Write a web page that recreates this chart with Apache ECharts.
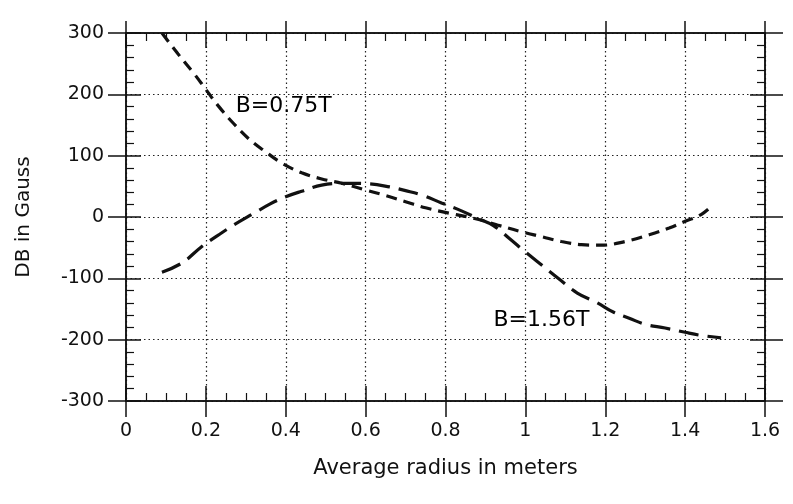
<!DOCTYPE html>
<html>
<head>
<meta charset="utf-8">
<script src="https://cdn.jsdelivr.net/npm/echarts@6/dist/echarts.min.js"></script>
<style>
  html, body { margin: 0; padding: 0; background: #fff; }
  #chart { width: 793px; height: 504px; }
</style>
</head>
<body>
<div id="chart"></div>
<script>
// B=0.75T curve (short dashes)
var xLow = [0.09, 0.13, 0.17, 0.2, 0.23, 0.27, 0.31, 0.35, 0.39, 0.44, 0.49, 0.54, 0.6, 0.65, 0.7, 0.75, 0.81, 0.87, 0.93, 0.99, 1.04, 1.09, 1.14, 1.19, 1.25, 1.31, 1.36, 1.4, 1.44, 1.47];
var yLow = [300, 266, 234, 208, 182, 152, 126, 106, 88, 72, 62, 55, 44, 35, 25, 15, 6, -2, -13, -24, -32, -40, -45, -46, -40, -29, -18, -7, 4, 20];
// B=1.56T curve (long dashes)
var xHigh = [0.09, 0.14, 0.19, 0.23, 0.27, 0.32, 0.36, 0.4, 0.44, 0.49, 0.55, 0.61, 0.66, 0.7, 0.74, 0.79, 0.84, 0.88, 0.92, 0.96, 1.0, 1.04, 1.09, 1.13, 1.18, 1.22, 1.26, 1.3, 1.35, 1.4, 1.44, 1.49];
var yHigh = [-90, -75, -48, -30, -13, 6, 21, 33, 42, 52, 55, 54, 49, 43, 36, 23, 10, -2, -14, -35, -57, -78, -104, -124, -140, -155, -165, -175, -181, -188, -193, -197];
// curve labels
var labelText = ['B=0.75T', 'B=1.56T'];
var labelX = [0.395, 1.04];
var labelY = [181, -168];

var FONT = 'DejaVu Sans';
var INK = '#111';

function pairs(xs, ys) {
    var out = [];
    for (var i = 0; i < xs.length; i++) out.push([xs[i], ys[i]]);
    return out;
}

// one axis carrying labels + outward ticks, one carrying inward ticks + minor ticks
function xAx(pos, inside, labels) {
    return {
        type: 'value', position: pos, min: 0, max: 1.6, interval: 0.2,
        axisLine: { show: true, onZero: false, lineStyle: { color: INK, width: 1.5 } },
        axisTick: { show: true, inside: inside, length: inside ? 15 : (pos == 'bottom' ? 16 : 12), lineStyle: { color: INK, width: 1.5 } },
        minorTick: { show: inside, splitNumber: 4, length: 8, lineStyle: { color: INK, width: 1.2 } },
        axisLabel: { show: labels, color: INK, fontFamily: FONT, fontSize: 19, margin: 21 },
        splitLine: { show: labels, lineStyle: { color: '#222', width: 1.2, type: [1.5, 3] } },
        minorSplitLine: { show: false }
    };
}
function yAx(pos, inside, labels) {
    return {
        type: 'value', position: pos, min: -300, max: 300, interval: 100,
        axisLine: { show: true, onZero: false, lineStyle: { color: INK, width: 1.5 } },
        axisTick: { show: true, inside: inside, length: inside ? 15 : 18, lineStyle: { color: INK, width: 1.5 } },
        minorTick: { show: inside, splitNumber: 5, length: 8, lineStyle: { color: INK, width: 1.2 } },
        axisLabel: { show: labels, color: INK, fontFamily: FONT, fontSize: 19, margin: 22 },
        splitLine: { show: labels, lineStyle: { color: '#222', width: 1.2, type: [1.5, 3] } },
        minorSplitLine: { show: false }
    };
}

var xAxes = [xAx('bottom', false, true), xAx('bottom', true, false), xAx('top', false, false), xAx('top', true, false)];
xAxes[0].name = 'Average radius in meters';
xAxes[0].nameLocation = 'middle';
xAxes[0].nameGap = 57;
xAxes[0].nameTextStyle = { color: INK, fontFamily: FONT, fontSize: 21 };

var yAxes = [yAx('left', false, true), yAx('left', true, false), yAx('right', false, false), yAx('right', true, false)];
yAxes[0].name = 'DB in Gauss';
yAxes[0].nameLocation = 'middle';
yAxes[0].nameGap = 92;
yAxes[0].nameRotate = 90;
yAxes[0].nameTextStyle = { color: INK, fontFamily: FONT, fontSize: 20 };

var labelData = [];
for (var i = 0; i < labelText.length; i++) labelData.push([labelX[i], labelY[i], labelText[i]]);

var myChart = echarts.init(document.getElementById('chart'));
var option = {
    animation: false,
    backgroundColor: '#fff',
    grid: { left: 126, right: 28, top: 33, bottom: 103 },
    xAxis: xAxes,
    yAxis: yAxes,
    series: [{
        name: 'B=0.75T',
        type: 'line',
        xAxisIndex: 0, yAxisIndex: 0,
        smooth: 0.4,
        showSymbol: false,
        lineStyle: { color: INK, width: 3.2, type: [11, 7] },
        data: pairs(xLow, yLow)
    }, {
        name: 'B=1.56T',
        type: 'line',
        xAxisIndex: 0, yAxisIndex: 0,
        smooth: 0.4,
        showSymbol: false,
        lineStyle: { color: INK, width: 3.2, type: [20, 9] },
        data: pairs(xHigh, yHigh)
    }, {
        type: 'scatter',
        xAxisIndex: 0, yAxisIndex: 0,
        symbolSize: 0,
        itemStyle: { opacity: 1 },
        label: {
            show: true, position: 'inside', color: '#000', fontFamily: FONT, fontSize: 22,
            formatter: function (p) { return p.value[2]; }
        },
        data: labelData
    }]
};
myChart.setOption(option);
</script>
</body>
</html>
